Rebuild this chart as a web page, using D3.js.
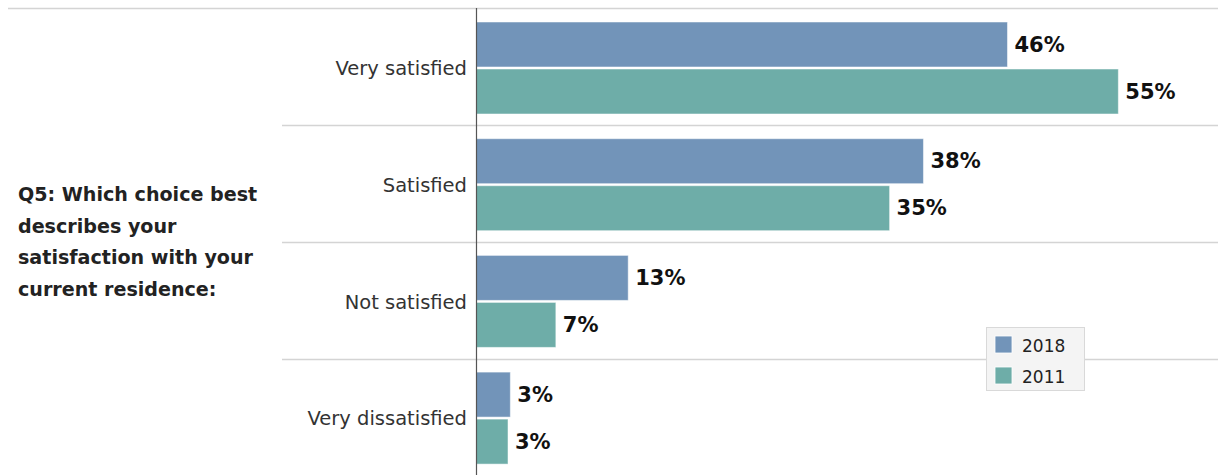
<!DOCTYPE html>
<html><head><meta charset="utf-8">
<script src="https://cdn.jsdelivr.net/npm/d3@7"></script>
<style>body{margin:0;background:#fff;} svg{display:block;}</style>
</head><body>
<script>
const categories = ["Very satisfied", "Satisfied", "Not satisfied", "Very dissatisfied"];
const seriesNames = ["2018", "2011"];
const values2018 = [45.5, 38.3, 13.0, 2.9];
const values2011 = [55.0, 35.4, 6.8, 2.7];
const titleLines = ["Q5: Which choice best", "describes your", "satisfaction with your", "current residence:"];
const colors = ["#7294b9", "#6eada8"];

const W = 1218, H = 475;
const svg = d3.select("body").append("svg").attr("width", W).attr("height", H);
const font = "'DejaVu Sans', sans-serif";

const x = d3.scaleLinear().domain([0, 100]).range([476.5, 476.5 + 1167]);
const y = d3.scaleBand().domain(categories).range([8.5, 475.3]);
const ySub = d3.scaleBand().domain(seriesNames).range([13.5, 105.5]).paddingInner(0.043);
const color = d3.scaleOrdinal().domain(seriesNames).range(colors);

const data = categories.map((c, i) => ({cat: c, vals: [
  {s: "2018", v: values2018[i]}, {s: "2011", v: values2011[i]}]}));

// top line
svg.append("line").attr("x1", 8).attr("x2", W).attr("y1", 8.5).attr("y2", 8.5)
  .attr("stroke", "#d4d4d4").attr("stroke-width", 1.5);
// row separators
categories.slice(1).forEach(c => {
  svg.append("line").attr("x1", 282).attr("x2", W).attr("y1", Math.round(y(c)) + 0.5).attr("y2", Math.round(y(c)) + 0.5)
    .attr("stroke", "#d4d4d4").attr("stroke-width", 1.5);
});

const g = svg.selectAll("g.row").data(data).join("g").attr("class", "row")
  .attr("transform", d => `translate(0,${y(d.cat)})`);

g.selectAll("rect").data(d => d.vals).join("rect")
  .attr("x", x(0)).attr("y", d => ySub(d.s))
  .attr("width", d => x(d.v) - x(0)).attr("height", ySub.bandwidth())
  .attr("fill", d => color(d.s)).attr("stroke", "rgba(255,255,255,0.5)").attr("stroke-width", 1);

g.selectAll("text.val").data(d => d.vals).join("text").attr("class", "val")
  .attr("x", d => x(d.v) + 7).attr("y", d => ySub(d.s) + ySub.bandwidth() / 2)
  .attr("dy", "0.34em")
  .attr("font-family", font).attr("font-weight", 700).attr("font-size", 21).attr("fill", "#111")
  .text(d => Math.round(d.v) + "%");

g.append("text").attr("x", 467).attr("y", y.bandwidth() / 2 + 1.5).attr("dy", "0.35em")
  .attr("text-anchor", "end").attr("font-family", font).attr("font-size", 19.5).attr("fill", "#333")
  .text(d => d.cat);

// axis line
svg.append("line").attr("x1", 476.5).attr("x2", 476.5).attr("y1", 8).attr("y2", H)
  .attr("stroke", "#555").attr("stroke-width", 1.2);

// title
svg.append("g").selectAll("text").data(titleLines).join("text")
  .attr("x", 18).attr("y", (d, i) => 201 + i * 31.6)
  .attr("font-family", font).attr("font-weight", 700).attr("font-size", 19.1).attr("fill", "#222")
  .text(d => d);

// legend
const lg = svg.append("g");
lg.append("rect").attr("x", 986.5).attr("y", 327.5).attr("width", 98).attr("height", 63)
  .attr("fill", "#f4f4f4").attr("stroke", "#d9d9d9");
seriesNames.forEach((s, i) => {
  lg.append("rect").attr("x", 995).attr("y", 336 + i * 31).attr("width", 17).attr("height", 17)
    .attr("fill", color(s)).attr("stroke", "#fff").attr("stroke-width", 0.8);
  lg.append("text").attr("x", 1022).attr("y", 345.5 + i * 31).attr("dy", "0.36em")
    .attr("font-family", font).attr("font-size", 17).attr("fill", "#222").text(s);
});
</script>
</body></html>
